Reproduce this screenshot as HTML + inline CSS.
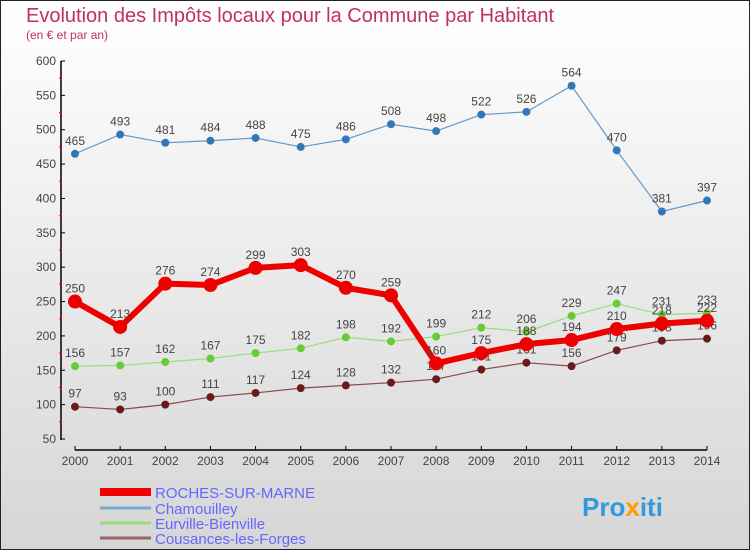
<!DOCTYPE html>
<html><head><meta charset="utf-8"><style>
body{margin:0}
#c{width:750px;height:550px;position:relative;font-family:"Liberation Sans",sans-serif}
</style></head><body>
<div id="c">
<svg id="s" width="750" height="550" xmlns="http://www.w3.org/2000/svg">
<defs><linearGradient id="bg" x1="0" y1="0" x2="0" y2="1"><stop offset="0" stop-color="#ffffff"/><stop offset="1" stop-color="#d6d6d6"/></linearGradient></defs>
<rect x="0.5" y="0.5" width="749" height="549" fill="url(#bg)" stroke="#222"/>
<text x="26" y="22" font-size="20" fill="#c03060">Evolution des Impôts locaux pour la Commune par Habitant</text>
<text x="26" y="39" font-size="12" fill="#c03060">(en € et par an)</text>
<g id="axes"></g><g id="series"></g><g id="legend"></g>
<text x="582" y="516" font-size="26" font-weight="bold" fill="#3399dd">Pro<tspan fill="#ff9900">x</tspan>iti</text>
</svg></div>
<script>
const years=["2000","2001","2002","2003","2004","2005","2006","2007","2008","2009","2010","2011","2012","2013","2014"];
const roches=[250,213,276,274,299,303,270,259,160,175,188,194,210,218,222];
const chamouilley=[465,493,481,484,488,475,486,508,498,522,526,564,470,381,397];
const eurville=[156,157,162,167,175,182,198,192,199,212,206,229,247,231,233];
const cousances=[97,93,100,111,117,124,128,132,137,151,161,156,179,193,196];
const yTicks=[50,100,150,200,250,300,350,400,450,500,550,600];
const NS="http://www.w3.org/2000/svg";
const X=i=>75+i*(707-75)/(years.length-1);
const Y=v=>439-(v-50)*(378/550);
function mk(t,a,p){const e=document.createElementNS(NS,t);for(const k in a)e.setAttribute(k,a[k]);(p||document.getElementById('series')).appendChild(e);return e;}
const ax=document.getElementById('axes');
let l=mk('line',{x1:61,y1:61,x2:61,y2:440,stroke:'#000','stroke-width':1.5},ax);

yTicks.forEach((v,i)=>{mk('line',{x1:61,y1:Y(v),x2:65,y2:Y(v),stroke:'#000'},ax);
 if(i<yTicks.length-1)mk('line',{x1:59,y1:Y(v+25),x2:62,y2:Y(v+25),stroke:'#f00'},ax);
 const t=mk('text',{x:56,y:Y(v)+4,'font-size':12,'text-anchor':'end',fill:'#444'},ax);t.textContent=v;
 });
l=mk('line',{x1:75,y1:450,x2:707,y2:450,stroke:'#000','stroke-width':1.5},ax);

years.forEach((y,i)=>{mk('line',{x1:X(i),y1:446,x2:X(i),y2:450,stroke:'#000'},ax);
 const t=mk('text',{x:X(i),y:465,'font-size':12,'text-anchor':'middle',fill:'#444'},ax);t.textContent=y;
 });
function series(d,col,dot,w,r,name){
 const g=mk('g',{});
 mk('polyline',{points:d.map((v,i)=>X(i)+','+Y(v)).join(' '),fill:'none',stroke:col,'stroke-width':w,'stroke-linejoin':'round'},g);
 d.forEach((v,i)=>{const c=mk('circle',{cx:X(i),cy:Y(v),r:r,fill:dot},g);
  const t=mk('text',{x:X(i),y:Y(v)-9,'font-size':12,'text-anchor':'middle',fill:'#444'},g);t.textContent=v;});
}
series(cousances,'#8a4a4a','#6a1a1a',1.2,4,'series-cousances');
series(eurville,'#99dd77','#66cc33',1.2,4,'series-eurville');
series(chamouilley,'#6699cc','#3377bb',1.2,4,'series-chamouilley');
series(roches,'#ee0000','#ee0000',6,7,'series-roches');
const lg=document.getElementById('legend');
[["ROCHES-SUR-MARNE","#ee0000",8,492],["Chamouilley","#77aacc",3,508],["Eurville-Bienville","#99dd77",3,523],["Cousances-les-Forges","#996666",3,538]].forEach(e=>{
 const g=mk('g',{},lg);
 mk('line',{x1:100,y1:e[3],x2:151,y2:e[3],stroke:e[1],'stroke-width':e[2]},g);
 const t=mk('text',{x:155,y:e[3]+6,'font-size':15,fill:'#6666ff'},g);t.textContent=e[0];});
</script></body></html>
